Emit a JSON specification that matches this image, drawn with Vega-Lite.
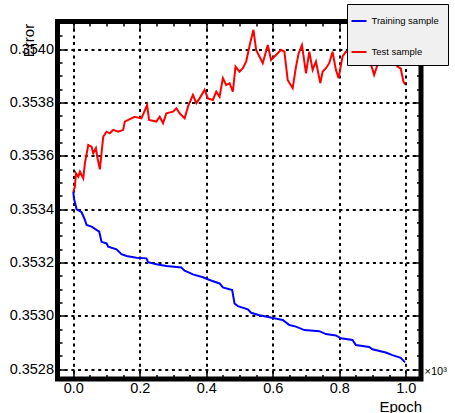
{
  "$schema": "https://vega.github.io/schema/vega-lite/v6.json",
  "autosize": {"type": "none"},
  "padding": {"left": 57.5, "top": 21.5, "right": 34, "bottom": 34},
  "width": 363.5,
  "height": 357.5,
  "background": "white",
  "config": {
    "font": "Liberation Sans",
    "view": {"stroke": "black", "strokeWidth": 5},
    "axis": {"domain": false, "labelFont": "Liberation Sans", "titleFont": "Liberation Sans", "labelColor": "black", "titleColor": "black", "tickColor": "black", "titleFontWeight": "normal"}
  },
  "datasets": {
    "curves": [
      {"epoch": 0, "error": 0.353466, "sample": "Training sample"},
      {"epoch": 2, "error": 0.353441, "sample": "Training sample"},
      {"epoch": 10, "error": 0.353400, "sample": "Training sample"},
      {"epoch": 25, "error": 0.353389, "sample": "Training sample"},
      {"epoch": 35, "error": 0.353360, "sample": "Training sample"},
      {"epoch": 40, "error": 0.353341, "sample": "Training sample"},
      {"epoch": 55, "error": 0.353335, "sample": "Training sample"},
      {"epoch": 78, "error": 0.353316, "sample": "Training sample"},
      {"epoch": 85, "error": 0.353278, "sample": "Training sample"},
      {"epoch": 100, "error": 0.353272, "sample": "Training sample"},
      {"epoch": 105, "error": 0.353260, "sample": "Training sample"},
      {"epoch": 130, "error": 0.353250, "sample": "Training sample"},
      {"epoch": 145, "error": 0.353232, "sample": "Training sample"},
      {"epoch": 160, "error": 0.353225, "sample": "Training sample"},
      {"epoch": 190, "error": 0.353218, "sample": "Training sample"},
      {"epoch": 220, "error": 0.353216, "sample": "Training sample"},
      {"epoch": 225, "error": 0.353202, "sample": "Training sample"},
      {"epoch": 250, "error": 0.353194, "sample": "Training sample"},
      {"epoch": 280, "error": 0.353187, "sample": "Training sample"},
      {"epoch": 325, "error": 0.353182, "sample": "Training sample"},
      {"epoch": 335, "error": 0.353170, "sample": "Training sample"},
      {"epoch": 360, "error": 0.353156, "sample": "Training sample"},
      {"epoch": 390, "error": 0.353145, "sample": "Training sample"},
      {"epoch": 410, "error": 0.353135, "sample": "Training sample"},
      {"epoch": 440, "error": 0.353122, "sample": "Training sample"},
      {"epoch": 450, "error": 0.353107, "sample": "Training sample"},
      {"epoch": 478, "error": 0.353097, "sample": "Training sample"},
      {"epoch": 485, "error": 0.353047, "sample": "Training sample"},
      {"epoch": 495, "error": 0.353037, "sample": "Training sample"},
      {"epoch": 525, "error": 0.353025, "sample": "Training sample"},
      {"epoch": 535, "error": 0.353012, "sample": "Training sample"},
      {"epoch": 560, "error": 0.353003, "sample": "Training sample"},
      {"epoch": 590, "error": 0.352995, "sample": "Training sample"},
      {"epoch": 630, "error": 0.352985, "sample": "Training sample"},
      {"epoch": 650, "error": 0.352966, "sample": "Training sample"},
      {"epoch": 670, "error": 0.352960, "sample": "Training sample"},
      {"epoch": 695, "error": 0.352947, "sample": "Training sample"},
      {"epoch": 740, "error": 0.352943, "sample": "Training sample"},
      {"epoch": 760, "error": 0.352932, "sample": "Training sample"},
      {"epoch": 790, "error": 0.352927, "sample": "Training sample"},
      {"epoch": 805, "error": 0.352916, "sample": "Training sample"},
      {"epoch": 840, "error": 0.352910, "sample": "Training sample"},
      {"epoch": 850, "error": 0.352891, "sample": "Training sample"},
      {"epoch": 890, "error": 0.352884, "sample": "Training sample"},
      {"epoch": 900, "error": 0.352875, "sample": "Training sample"},
      {"epoch": 940, "error": 0.352863, "sample": "Training sample"},
      {"epoch": 960, "error": 0.352853, "sample": "Training sample"},
      {"epoch": 985, "error": 0.352843, "sample": "Training sample"},
      {"epoch": 998, "error": 0.352826, "sample": "Training sample"},
      {"epoch": 0, "error": 0.353466, "sample": "Test sample"},
      {"epoch": 5, "error": 0.353485, "sample": "Test sample"},
      {"epoch": 8, "error": 0.353535, "sample": "Test sample"},
      {"epoch": 15, "error": 0.353522, "sample": "Test sample"},
      {"epoch": 20, "error": 0.353541, "sample": "Test sample"},
      {"epoch": 30, "error": 0.353516, "sample": "Test sample"},
      {"epoch": 35, "error": 0.353573, "sample": "Test sample"},
      {"epoch": 45, "error": 0.353641, "sample": "Test sample"},
      {"epoch": 55, "error": 0.353635, "sample": "Test sample"},
      {"epoch": 60, "error": 0.353610, "sample": "Test sample"},
      {"epoch": 68, "error": 0.353629, "sample": "Test sample"},
      {"epoch": 72, "error": 0.353597, "sample": "Test sample"},
      {"epoch": 80, "error": 0.353550, "sample": "Test sample"},
      {"epoch": 90, "error": 0.353672, "sample": "Test sample"},
      {"epoch": 100, "error": 0.353691, "sample": "Test sample"},
      {"epoch": 110, "error": 0.353685, "sample": "Test sample"},
      {"epoch": 120, "error": 0.353698, "sample": "Test sample"},
      {"epoch": 135, "error": 0.353691, "sample": "Test sample"},
      {"epoch": 150, "error": 0.353698, "sample": "Test sample"},
      {"epoch": 155, "error": 0.353729, "sample": "Test sample"},
      {"epoch": 170, "error": 0.353738, "sample": "Test sample"},
      {"epoch": 185, "error": 0.353747, "sample": "Test sample"},
      {"epoch": 205, "error": 0.353741, "sample": "Test sample"},
      {"epoch": 222, "error": 0.353791, "sample": "Test sample"},
      {"epoch": 228, "error": 0.353735, "sample": "Test sample"},
      {"epoch": 250, "error": 0.353729, "sample": "Test sample"},
      {"epoch": 260, "error": 0.353747, "sample": "Test sample"},
      {"epoch": 270, "error": 0.353723, "sample": "Test sample"},
      {"epoch": 280, "error": 0.353760, "sample": "Test sample"},
      {"epoch": 300, "error": 0.353766, "sample": "Test sample"},
      {"epoch": 310, "error": 0.353779, "sample": "Test sample"},
      {"epoch": 320, "error": 0.353760, "sample": "Test sample"},
      {"epoch": 335, "error": 0.353741, "sample": "Test sample"},
      {"epoch": 345, "error": 0.353785, "sample": "Test sample"},
      {"epoch": 360, "error": 0.353829, "sample": "Test sample"},
      {"epoch": 370, "error": 0.353798, "sample": "Test sample"},
      {"epoch": 380, "error": 0.353816, "sample": "Test sample"},
      {"epoch": 395, "error": 0.353848, "sample": "Test sample"},
      {"epoch": 405, "error": 0.353816, "sample": "Test sample"},
      {"epoch": 420, "error": 0.353810, "sample": "Test sample"},
      {"epoch": 430, "error": 0.353841, "sample": "Test sample"},
      {"epoch": 440, "error": 0.353822, "sample": "Test sample"},
      {"epoch": 450, "error": 0.353892, "sample": "Test sample"},
      {"epoch": 460, "error": 0.353866, "sample": "Test sample"},
      {"epoch": 470, "error": 0.353873, "sample": "Test sample"},
      {"epoch": 480, "error": 0.353841, "sample": "Test sample"},
      {"epoch": 488, "error": 0.353935, "sample": "Test sample"},
      {"epoch": 500, "error": 0.353916, "sample": "Test sample"},
      {"epoch": 510, "error": 0.353929, "sample": "Test sample"},
      {"epoch": 520, "error": 0.353954, "sample": "Test sample"},
      {"epoch": 532, "error": 0.354023, "sample": "Test sample"},
      {"epoch": 542, "error": 0.354073, "sample": "Test sample"},
      {"epoch": 550, "error": 0.353998, "sample": "Test sample"},
      {"epoch": 560, "error": 0.353973, "sample": "Test sample"},
      {"epoch": 570, "error": 0.353948, "sample": "Test sample"},
      {"epoch": 585, "error": 0.354016, "sample": "Test sample"},
      {"epoch": 595, "error": 0.353960, "sample": "Test sample"},
      {"epoch": 615, "error": 0.353985, "sample": "Test sample"},
      {"epoch": 625, "error": 0.353998, "sample": "Test sample"},
      {"epoch": 635, "error": 0.353991, "sample": "Test sample"},
      {"epoch": 645, "error": 0.353885, "sample": "Test sample"},
      {"epoch": 660, "error": 0.353854, "sample": "Test sample"},
      {"epoch": 670, "error": 0.353935, "sample": "Test sample"},
      {"epoch": 678, "error": 0.353985, "sample": "Test sample"},
      {"epoch": 688, "error": 0.354016, "sample": "Test sample"},
      {"epoch": 700, "error": 0.353910, "sample": "Test sample"},
      {"epoch": 710, "error": 0.353991, "sample": "Test sample"},
      {"epoch": 720, "error": 0.353923, "sample": "Test sample"},
      {"epoch": 730, "error": 0.353954, "sample": "Test sample"},
      {"epoch": 743, "error": 0.353873, "sample": "Test sample"},
      {"epoch": 750, "error": 0.353916, "sample": "Test sample"},
      {"epoch": 760, "error": 0.353929, "sample": "Test sample"},
      {"epoch": 770, "error": 0.353948, "sample": "Test sample"},
      {"epoch": 780, "error": 0.353991, "sample": "Test sample"},
      {"epoch": 790, "error": 0.353923, "sample": "Test sample"},
      {"epoch": 798, "error": 0.353892, "sample": "Test sample"},
      {"epoch": 810, "error": 0.353973, "sample": "Test sample"},
      {"epoch": 820, "error": 0.353991, "sample": "Test sample"},
      {"epoch": 840, "error": 0.353985, "sample": "Test sample"},
      {"epoch": 860, "error": 0.353960, "sample": "Test sample"},
      {"epoch": 880, "error": 0.353975, "sample": "Test sample"},
      {"epoch": 895, "error": 0.353945, "sample": "Test sample"},
      {"epoch": 905, "error": 0.353904, "sample": "Test sample"},
      {"epoch": 920, "error": 0.353960, "sample": "Test sample"},
      {"epoch": 940, "error": 0.353990, "sample": "Test sample"},
      {"epoch": 960, "error": 0.353970, "sample": "Test sample"},
      {"epoch": 975, "error": 0.353935, "sample": "Test sample"},
      {"epoch": 985, "error": 0.353928, "sample": "Test sample"},
      {"epoch": 993, "error": 0.353880, "sample": "Test sample"},
      {"epoch": 998, "error": 0.353868, "sample": "Test sample"}
    ]
  },
  "data": {"name": "curves"},
  "resolve": {
    "scale": {"x": "independent", "y": "independent"},
    "axis": {"x": "independent", "y": "independent"}
  },
  "layer": [
    {
      "mark": {"type": "line", "strokeWidth": 2, "interpolate": "linear"},
      "encoding": {
        "x": {
          "field": "epoch", "type": "quantitative",
          "scale": {"domain": [-47.5, 1046], "nice": false, "zero": false},
          "axis": {
            "orient": "bottom",
            "values": [0, 50, 100, 150, 200, 250, 300, 350, 400, 450, 500, 550, 600, 650, 700, 750, 800, 850, 900, 950, 1000],
            "labelExpr": "datum.value % 200 == 0 ? format(datum.value / 1000, '.1f') : ''",
            "labelFontSize": 14.5,
            "labelPadding": 11,
            "labelFlush": false,
            "labelOverlap": false,
            "tickSize": {"condition": {"test": "datum.value % 200 == 0", "value": -9}, "value": -4.5},
            "tickWidth": 1.5,
            "grid": true,
            "gridColor": "black",
            "gridWidth": 2,
            "gridDash": [3, 3.7],
            "gridOpacity": {"condition": {"test": "datum.value % 200 == 0", "value": 1}, "value": 0},
            "title": "Epoch",
            "titleFontSize": 15,
            "titleAlign": "right",
            "titleBaseline": "alphabetic",
            "titleX": 364,
            "titleY": 32.4
          }
        },
        "y": {
          "field": "error", "type": "quantitative",
          "scale": {"domain": [0.3527636, 0.3541043], "nice": false, "zero": false},
          "axis": {
            "orient": "left",
            "values": [0.3528, 0.35285, 0.3529, 0.35295, 0.353, 0.35305, 0.3531, 0.35315, 0.3532, 0.35325, 0.3533, 0.35335, 0.3534, 0.35345, 0.3535, 0.35355, 0.3536, 0.35365, 0.3537, 0.35375, 0.3538, 0.35385, 0.3539, 0.35395, 0.354, 0.35405],
            "labelExpr": "round(datum.value * 100000) % 20 == 0 ? format(datum.value, '.4f') : ''",
            "labelFontSize": 14.5,
            "labelPadding": 13,
            "labelFlush": false,
            "labelOverlap": false,
            "tickSize": {"condition": {"test": "round(datum.value * 100000) % 20 == 0", "value": -9}, "value": -4.5},
            "tickWidth": 1.5,
            "grid": true,
            "gridColor": "black",
            "gridWidth": 2,
            "gridDash": [3, 3.7],
            "gridOpacity": {"condition": {"test": "round(datum.value * 100000) % 20 == 0", "value": 1}, "value": 0},
            "title": "Error",
            "titleFontSize": 15,
            "titleAngle": 270,
            "titleAlign": "center",
            "titleBaseline": "alphabetic",
            "titleX": -24.2,
            "titleY": 18.5
          }
        },
        "color": {
          "field": "sample", "type": "nominal",
          "scale": {"domain": ["Training sample", "Test sample"], "range": ["#0000ff", "#ff0000"]},
          "legend": {
            "orient": "none",
            "legendX": 289.5,
            "legendY": -17.5,
            "title": null,
            "zindex": 2,
            "fillColor": "#f0f0f0",
            "strokeColor": "black",
            "padding": 8.5,
            "rowPadding": 18,
            "symbolType": "stroke",
            "symbolSize": 225,
            "symbolStrokeWidth": 2,
            "symbolOffset": -5,
            "labelOffset": 4,
            "labelFontSize": 9.5,
            "labelFont": "Liberation Sans",
            "labelColor": "black"
          }
        }
      }
    },
    {
      "mark": {"type": "line", "opacity": 0},
      "encoding": {
        "x": {
          "field": "epoch", "type": "quantitative",
          "scale": {"domain": [-47.5, 1046], "nice": false, "zero": false},
          "axis": {
            "orient": "top",
            "values": [0, 50, 100, 150, 200, 250, 300, 350, 400, 450, 500, 550, 600, 650, 700, 750, 800, 850, 900, 950, 1000],
            "labels": false,
            "grid": false,
            "tickSize": {"condition": {"test": "datum.value % 200 == 0", "value": -9}, "value": -4.5},
            "tickWidth": 1.5,
            "title": "×10³",
            "titleFontSize": 11,
            "titleAlign": "left",
            "titleBaseline": "alphabetic",
            "titleX": 366.5,
            "titleY": 352.5
          }
        },
        "y": {
          "field": "error", "type": "quantitative",
          "scale": {"domain": [0.3527636, 0.3541043], "nice": false, "zero": false},
          "axis": {
            "orient": "right",
            "values": [0.3528, 0.35285, 0.3529, 0.35295, 0.353, 0.35305, 0.3531, 0.35315, 0.3532, 0.35325, 0.3533, 0.35335, 0.3534, 0.35345, 0.3535, 0.35355, 0.3536, 0.35365, 0.3537, 0.35375, 0.3538, 0.35385, 0.3539, 0.35395, 0.354, 0.35405],
            "labels": false,
            "grid": false,
            "tickSize": {"condition": {"test": "round(datum.value * 100000) % 20 == 0", "value": -9}, "value": -4.5},
            "tickWidth": 1.5,
            "title": null
          }
        }
      }
    }
  ]
}
